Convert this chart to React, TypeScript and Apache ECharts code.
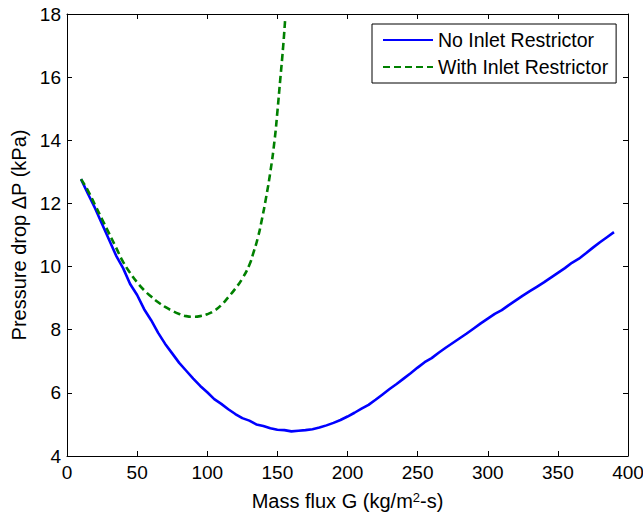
import React, { useEffect, useRef } from "react";
import * as echarts from "echarts";

const seriesNames = ["No Inlet Restrictor", "With Inlet Restrictor"];

const noRestrictorG = [
  10, 15, 20, 25, 30, 35, 40, 45, 50, 55, 60, 65, 70, 75, 80, 85, 90, 95, 100,
  105, 110, 115, 120, 125, 130, 135, 140, 145, 150, 155, 160, 165, 170, 175,
  180, 185, 190, 195, 200, 205, 210, 215, 220, 225, 230, 235, 240, 245, 250,
  255, 260, 265, 270, 275, 280, 285, 290, 295, 300, 305, 310, 315, 320, 325,
  330, 335, 340, 345, 350, 355, 360, 365, 370, 375, 380, 385, 390,
];
const noRestrictorDP = [
  12.77, 12.3, 11.85, 11.35, 10.85, 10.35, 9.95, 9.45, 9.1, 8.65, 8.3, 7.9,
  7.55, 7.25, 6.95, 6.7, 6.45, 6.22, 6.02, 5.8, 5.65, 5.48, 5.33, 5.2, 5.12,
  5.0, 4.95, 4.88, 4.83, 4.82, 4.78, 4.8, 4.82, 4.85, 4.9, 4.97, 5.05, 5.14,
  5.25, 5.37, 5.5, 5.62, 5.78, 5.95, 6.12, 6.28, 6.45, 6.62, 6.8, 6.97, 7.1,
  7.27, 7.43, 7.58, 7.73, 7.88, 8.04, 8.2, 8.35, 8.5, 8.62, 8.78, 8.93, 9.08,
  9.22, 9.36, 9.5, 9.65, 9.8, 9.95, 10.12, 10.25, 10.42, 10.6, 10.77, 10.93,
  11.09,
];

const withRestrictorG = [
  10, 15, 20, 25, 30, 35, 40, 45, 50, 55, 60, 65, 70, 75, 80, 85, 90, 95, 100,
  105, 110, 115, 120, 125, 130, 133, 136, 139, 142, 145, 148, 150, 152, 154,
  155.5,
];
const withRestrictorDP = [
  12.77, 12.4, 11.95, 11.5, 11.05, 10.6, 10.15, 9.8, 9.5, 9.25, 9.05, 8.87,
  8.72, 8.6, 8.5, 8.43, 8.41, 8.43, 8.49, 8.6, 8.78, 9.03, 9.3, 9.62, 10.05,
  10.45, 10.9, 11.5, 12.2, 13.0, 14.0, 14.9, 15.9, 16.9, 17.8,
];

const xTitle = "{n|Mass flux G (kg/m}{sup|2}{n|-s)}";
const yTitle = "Pressure drop ΔP (kPa)";

const FONT = "'Liberation Sans', Arial, Helvetica, sans-serif";

export default function App() {
  const ref = useRef<HTMLDivElement>(null);
  useEffect(() => {
    if (!ref.current) return;
    const chart = echarts.init(ref.current, null, { renderer: "svg" });
    const pairs = (xs: number[], ys: number[]) => xs.map((x, i) => [x, ys[i]]);
    const axisCommon = {
      axisLine: { show: true, onZero: false, lineStyle: { color: "#000", width: 1 } },
      axisTick: { show: true, inside: true, length: 5, lineStyle: { color: "#000" } },
      splitLine: { show: false },
    };
    chart.setOption({
      animation: false,
      backgroundColor: "#fff",
      textStyle: { fontFamily: FONT },
      grid: {
        left: 67,
        right: 15,
        top: 14,
        bottom: 58,
        containLabel: false,
        outerBoundsMode: "none",
      },
      legend: {
        orient: "vertical",
        left: 372,
        top: 24,
        padding: [6, 8, 6, 10],
        itemWidth: 50,
        itemHeight: 20,
        itemGap: 7,
        borderColor: "#000",
        borderWidth: 1,
        backgroundColor: "#fff",
        itemStyle: { color: "transparent", borderColor: "transparent", borderWidth: 0, opacity: 0 },
        textStyle: { fontSize: 19.5, color: "#000", fontFamily: FONT },
        data: seriesNames,
      },
      xAxis: [
        {
          type: "value",
          min: 0,
          max: 400,
          interval: 50,
          name: xTitle,
          nameLocation: "middle",
          nameGap: 35,
          nameTextStyle: {
            fontSize: 20,
            color: "#000",
            fontFamily: FONT,
            rich: {
              n: { fontSize: 20, lineHeight: 20, verticalAlign: "bottom", color: "#000", fontFamily: FONT },
              sup: { fontSize: 13, lineHeight: 13, verticalAlign: "top", padding: [0, 0, 12, 0], color: "#000", fontFamily: FONT },
            },
          },
          axisLabel: { fontSize: 19, color: "#000", margin: 7, fontFamily: FONT },
          ...axisCommon,
        },
        {
          type: "value",
          position: "top",
          min: 0,
          max: 400,
          interval: 50,
          axisLabel: { show: false },
          ...axisCommon,
        },
      ],
      yAxis: [
        {
          type: "value",
          min: 4,
          max: 18,
          interval: 2,
          name: yTitle,
          nameLocation: "middle",
          nameGap: 36,
          nameTextStyle: { fontSize: 20, color: "#000", fontFamily: FONT },
          axisLabel: { fontSize: 19, color: "#000", margin: 6, fontFamily: FONT },
          ...axisCommon,
        },
        {
          type: "value",
          position: "right",
          min: 4,
          max: 18,
          interval: 2,
          axisLabel: { show: false },
          ...axisCommon,
        },
      ],
      series: [
        {
          name: seriesNames[0],
          type: "line",
          data: pairs(noRestrictorG, noRestrictorDP),
          symbol: "none",
          smooth: false,
          lineStyle: { color: "#0000ff", width: 2.6 },
          itemStyle: { color: "#0000ff" },
        },
        {
          name: seriesNames[1],
          type: "line",
          data: pairs(withRestrictorG, withRestrictorDP),
          symbol: "none",
          smooth: true,
          lineStyle: { color: "#008000", width: 2.6, type: [7, 4] },
          itemStyle: { color: "#008000" },
        },
      ],
    });
    return () => chart.dispose();
  }, []);
  return (
    <div
      ref={ref}
      style={{ position: "fixed", left: 0, top: 0, width: 643, height: 514, background: "#fff" }}
    />
  );
}
